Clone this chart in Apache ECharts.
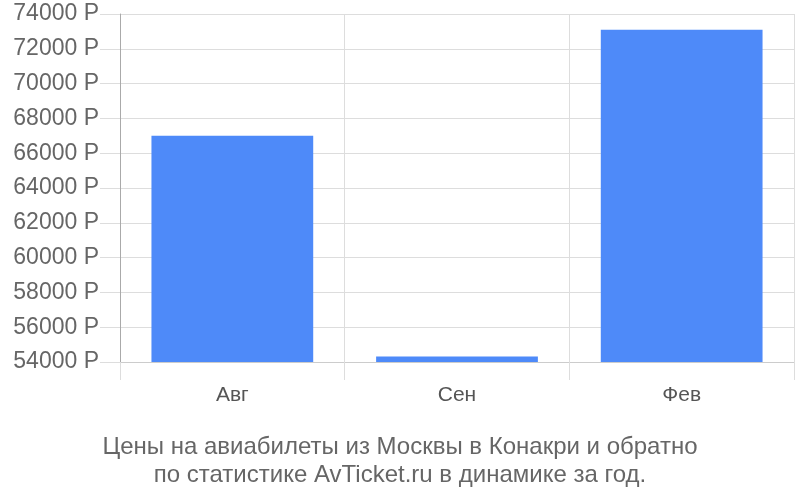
<!DOCTYPE html>
<html>
    <head>
        <meta charset="utf-8">
        <script src="https://cdn.jsdelivr.net/npm/echarts@6/dist/echarts.min.js"></script>
        <style>
            html, body { margin: 0; padding: 0; background: #fff; }
            #main { width: 800px; height: 500px; }
        </style>
    </head>
    <body>
        <div id="main"></div>

        <script>
            // months and average ticket price, rubles
            var months = ['Авг', 'Сен', 'Фев'];
            var prices = [67000, 54320, 73090];

            var yMin = 54000;
            var yMax = 74000;
            var yStep = 2000;

            var titleLines = [
                'Цены на авиабилеты из Москвы в Конакри и обратно',
                'по статистике AvTicket.ru в динамике за год.'
            ];

            var font = '"Liberation Sans", Arial, sans-serif';

            var chart = echarts.init(document.getElementById('main'), null, {renderer: 'canvas'});

            chart.setOption({
                animation: false,
                title: {
                    text: titleLines.join('\n'),
                    left: 'center',
                    top: 428,
                    textStyle: {
                        fontFamily: font,
                        fontSize: 24,
                        fontWeight: 'normal',
                        color: '#666',
                        lineHeight: 28
                    }
                },
                grid: {
                    left: 120,
                    right: 6,
                    top: 14,
                    bottom: 138,
                    containLabel: false
                },
                xAxis: {
                    type: 'category',
                    data: months,
                    axisLine: {show: true, lineStyle: {color: '#ccc', width: 1}},
                    axisTick: {show: true, length: 18, lineStyle: {color: '#ddd'}},
                    splitLine: {show: true, lineStyle: {color: '#ddd'}},
                    axisLabel: {
                        margin: 23,
                        fontFamily: font,
                        fontSize: 21,
                        color: '#555'
                    }
                },
                yAxis: {
                    type: 'value',
                    min: yMin,
                    max: yMax,
                    interval: yStep,
                    axisLine: {show: true, lineStyle: {color: '#aaa'}},
                    axisTick: {show: true, length: 20, lineStyle: {color: '#ddd'}},
                    splitLine: {show: true, lineStyle: {color: '#ddd'}},
                    axisLabel: {
                        margin: 21,
                        fontFamily: font,
                        fontSize: 23,
                        color: '#666',
                        formatter: function (v) { return v + ' Р'; }
                    }
                },
                series: [{
                    type: 'bar',
                    data: prices,
                    barWidth: '72%',
                    itemStyle: {color: '#4e8af9'}
                }]
            });
        </script>
    </body>
</html>
